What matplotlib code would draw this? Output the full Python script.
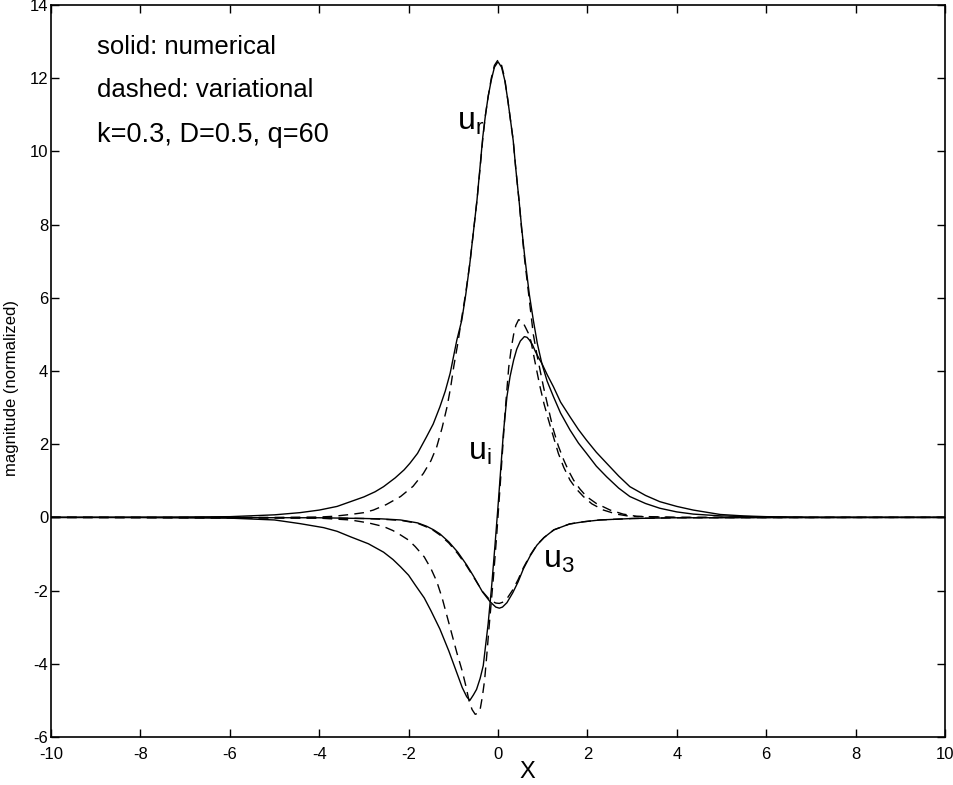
import matplotlib
matplotlib.use("Agg")
import matplotlib.pyplot as plt
from matplotlib import font_manager

# values
ur_num_x = [-10, -8, -6, -5, -4.43, -4, -3.6, -3.3, -3.0, -2.75, -2.56, -2.3, -2.1, -1.97, -1.8,
            -1.6, -1.45, -1.3, -1.18, -1.07, -0.92, -0.81, -0.72, -0.63, -0.55, -0.47, -0.4,
            -0.34, -0.28, -0.22, -0.15, -0.08, 0.0, 0.08, 0.15, 0.22, 0.28, 0.34, 0.4, 0.47,
            0.53, 0.6, 0.7, 0.79, 0.88, 0.98, 1.1, 1.24, 1.4, 1.61, 1.8, 1.98, 2.2, 2.43, 2.7,
            2.95, 3.3, 3.62, 4.0, 4.37, 5.0, 6.0, 7.0, 10]
ur_num_y = [0, 0.005, 0.02, 0.07, 0.13, 0.2, 0.3, 0.43, 0.56, 0.7, 0.84, 1.08, 1.3, 1.48, 1.75,
            2.2, 2.55, 3.02, 3.45, 3.94, 4.85, 5.39, 6.1, 6.94, 7.8, 8.67, 9.6,
            10.4, 11.0, 11.5, 11.95, 12.3, 12.45, 12.3, 11.95, 11.4, 10.85, 10.3, 9.5, 8.67,
            7.9, 7.1, 6.1, 5.39, 4.75, 4.21, 3.72, 3.3, 2.85, 2.39, 2.03, 1.75, 1.4, 1.11, 0.8,
            0.57, 0.38, 0.25, 0.15, 0.09, 0.04, 0.01, 0, 0]

ur_var_x = [-10, -5, -4, -3.68, -3.3, -3.0, -2.79, -2.5, -2.18, -1.9, -1.67, -1.5, -1.37, -1.25,
            -1.14, -1.06, -0.99, -0.9, -0.82, -0.72, -0.63, -0.55, -0.47, -0.4, -0.34, -0.28,
            -0.22, -0.15, -0.08, 0.0, 0.08, 0.15, 0.22, 0.28, 0.34, 0.4, 0.47, 0.53, 0.6, 0.7,
            0.79, 0.87, 0.94, 1.02, 1.1, 1.17, 1.24, 1.35, 1.47, 1.58, 1.69, 1.83, 1.98, 2.2,
            2.51, 2.8, 3.1, 4, 10]
ur_var_y = [0, 0, 0.01, 0.03, 0.08, 0.13, 0.2, 0.35, 0.57, 0.85, 1.2, 1.55, 1.93, 2.45,
            3.02, 3.55, 4.12, 4.75, 5.39, 6.15, 6.94, 7.8, 8.67, 9.55, 10.35, 11.0,
            11.5, 12.0, 12.35, 12.5, 12.35, 12.0, 11.4, 10.85, 10.3, 9.5, 8.67, 7.85, 7.0, 5.95,
            5.0, 4.45, 4.03, 3.55, 3.12, 2.75, 2.39, 1.95, 1.57, 1.27, 1.02, 0.78, 0.57, 0.38,
            0.2, 0.09, 0.03, 0, 0]

ui_num_x = [-10, -8, -6, -5, -4.43, -3.9, -3.6, -3.3, -2.9, -2.56, -2.35, -2.18, -2.0, -1.85,
            -1.65, -1.5, -1.4, -1.3, -1.2, -1.1, -0.95, -0.8, -0.7, -0.63, -0.55, -0.48, -0.4,
            -0.33, -0.22, -0.14, -0.07, 0.0, 0.06, 0.12, 0.2, 0.27, 0.35, 0.42, 0.5, 0.59, 0.65,
            0.7, 0.77, 0.83, 0.9, 0.98, 1.1, 1.24, 1.4, 1.61, 1.8, 1.98, 2.2, 2.43, 2.7, 2.95,
            3.3, 3.62, 4.0, 4.37, 4.97, 5.5, 6, 7, 10]
ui_num_y = [0, 0, -0.02, -0.07, -0.17, -0.28, -0.38, -0.53, -0.72, -0.95, -1.15, -1.35, -1.58,
            -1.85, -2.2, -2.55, -2.8, -3.05, -3.35, -3.65, -4.15, -4.65, -4.9, -5.0, -4.85, -4.7,
            -4.4, -4.05, -2.9, -1.85, -0.8, 0.3, 1.3, 2.3, 3.3, 3.85, 4.3, 4.6, 4.82, 4.94, 4.92,
            4.85, 4.72, 4.55, 4.38, 4.21, 3.9, 3.57, 3.15, 2.75, 2.4, 2.11, 1.78, 1.48, 1.13,
            0.84, 0.6, 0.43, 0.3, 0.2, 0.08, 0.04, 0.02, 0.005, 0]

ui_var_x = [-10, -4, -3.3, -2.9, -2.56, -2.35, -2.18, -2.0, -1.85, -1.65, -1.5, -1.37, -1.25,
            -1.14, -1.03, -0.92, -0.8, -0.72, -0.65, -0.58, -0.51, -0.45, -0.4, -0.35, -0.3,
            -0.25, -0.2, -0.15, -0.1, -0.03, 0.05, 0.1, 0.16, 0.24, 0.3, 0.35, 0.4, 0.46, 0.52,
            0.57, 0.62, 0.68, 0.74, 0.79, 0.86, 0.94, 1.03, 1.13, 1.24, 1.35, 1.47, 1.61, 1.75,
            1.91, 2.1, 2.36, 2.65, 2.95, 3.5, 4, 10]
ui_var_y = [0, -0.02, -0.07, -0.15, -0.25, -0.36, -0.48, -0.62, -0.8, -1.08, -1.4, -1.75, -2.2,
            -2.7, -3.2, -3.7, -4.2, -4.6, -5.0, -5.25, -5.38, -5.35, -5.25, -4.9, -4.45,
            -3.75, -3.0, -2.3, -1.6, -0.5, 0.9, 1.8, 2.9, 4.1, 4.65, 5.0, 5.25, 5.4, 5.38,
            5.3, 5.18, 5.03, 4.8, 4.48, 4.05, 3.57, 3.1, 2.66, 2.2, 1.75, 1.37, 1.02, 0.78,
            0.57, 0.37, 0.2, 0.09, 0.03, 0.01, 0, 0]

u3_num_x = [-10, -4, -3, -2.6, -2.18, -1.8, -1.6, -1.44, -1.3, -1.1, -0.9, -0.7, -0.55, -0.35,
            -0.18, -0.05, 0.03, 0.1, 0.2, 0.33, 0.45, 0.57, 0.72, 0.87, 1.03, 1.25, 1.6, 1.91,
            2.28, 3, 4, 10]
u3_num_y = [0, -0.01, -0.03, -0.04, -0.07, -0.15, -0.24, -0.34, -0.45, -0.67, -0.95, -1.3, -1.6,
            -2.03, -2.3, -2.45, -2.48, -2.45, -2.33, -2.06, -1.76, -1.4, -1.05, -0.76, -0.55,
            -0.34, -0.18, -0.12, -0.07, -0.03, -0.01, 0]

u3_var_x = [-10, -4, -3, -2.6, -2.18, -1.8, -1.6, -1.44, -1.3, -1.1, -0.9, -0.7, -0.55, -0.35,
            -0.18, -0.05, 0.03, 0.1, 0.2, 0.33, 0.45, 0.57, 0.72, 0.87, 1.03, 1.25, 1.6, 1.91,
            2.28, 3, 4, 10]
u3_var_y = [0, -0.01, -0.03, -0.05, -0.08, -0.16, -0.26, -0.36, -0.48, -0.7, -0.99, -1.33,
            -1.62, -2.02, -2.26, -2.34, -2.35, -2.32, -2.22, -1.98, -1.7, -1.37, -1.03, -0.75,
            -0.55, -0.34, -0.18, -0.12, -0.07, -0.03, -0.01, 0]

xticks = list(range(-10, 11, 2))
yticks = list(range(-6, 15, 2))

names = {f.name for f in font_manager.fontManager.ttflist}
narrow = "Liberation Sans Narrow" if "Liberation Sans Narrow" in names else "Liberation Sans"

plt.rcParams["font.family"] = ["Liberation Sans", "DejaVu Sans"]
plt.rcParams["mathtext.fontset"] = "custom"
plt.rcParams["mathtext.rm"] = "Liberation Sans"
plt.rcParams["axes.unicode_minus"] = False

fig = plt.figure(figsize=(9.54, 7.85), dpi=100)
ax = fig.add_axes([51 / 954, 1 - 737 / 785, 894 / 954, 732 / 785])

lw = 1.0
dash = (0, (7, 4.5))
ax.plot(ur_num_x, ur_num_y, color="black", lw=lw)
ax.plot(ur_var_x, ur_var_y, color="black", lw=lw, linestyle=dash)
ax.plot(ui_num_x, ui_num_y, color="black", lw=lw)
ax.plot(ui_var_x, ui_var_y, color="black", lw=lw, linestyle=dash)
ax.plot(u3_num_x, u3_num_y, color="black", lw=lw)
ax.plot(u3_var_x, u3_var_y, color="black", lw=lw, linestyle=dash)

ax.set_xlim(-10, 10)
ax.set_ylim(-6, 14)
ax.set_xticks(xticks)
ax.set_yticks(yticks)
ax.tick_params(direction="in", length=6, width=1, top=True, right=True)
ax.tick_params(axis="x", pad=7)
ax.tick_params(axis="y", pad=2)
for lab in ax.get_xticklabels() + ax.get_yticklabels():
    lab.set_fontfamily(narrow)
    lab.set_fontsize(12)
for s in ax.spines.values():
    s.set_linewidth(1.2)

ax.text(-8.97, 12.85, "solid: numerical", fontsize=18.5, va="center", ha="left")
ax.text(-8.97, 11.68, "dashed: variational", fontsize=18.5, va="center", ha="left")
ax.text(-8.97, 10.45, "k=0.3, D=0.5, q=60", fontsize=19.5, va="center", ha="left")

ax.text(-0.92, 10.58, r"$\mathrm{u_r}$", fontsize=23, ha="left", va="baseline")
ax.text(-0.68, 1.57, r"$\mathrm{u_i}$", fontsize=23, ha="left", va="baseline")
ax.text(1.01, -1.39, r"$\mathrm{u_3}$", fontsize=23, ha="left", va="baseline")

fig.text(527 / 954, 1 - 772 / 785, "X", fontsize=17, ha="center", va="center")
fig.text(12 / 954, 1 - 388 / 785, "magnitude (normalized)", fontsize=12,
         rotation=90, ha="center", va="center", family=narrow)

fig.savefig("out.png", dpi=100)
